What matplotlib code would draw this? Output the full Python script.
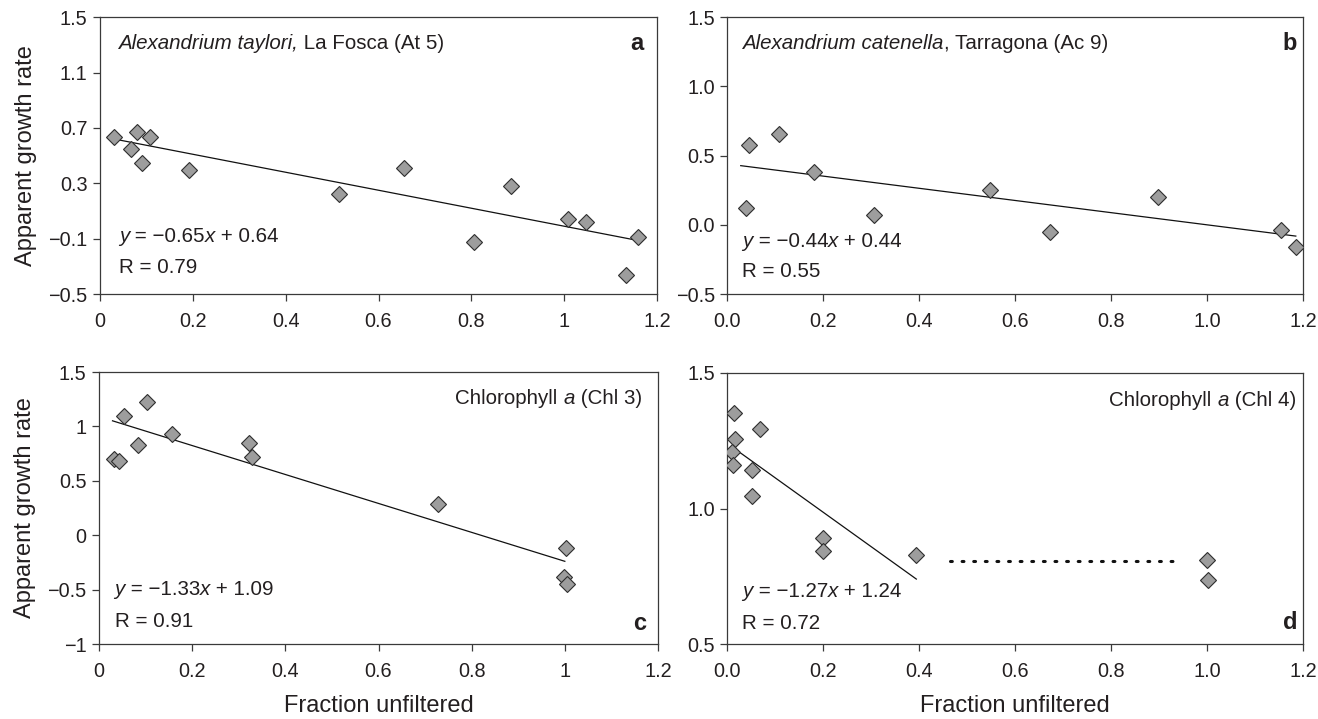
import matplotlib
matplotlib.use("Agg")
import matplotlib.pyplot as plt
import numpy as np
from matplotlib.offsetbox import TextArea, HPacker, AnnotationBbox

plt.rcParams['font.family'] = ['Liberation Sans', 'DejaVu Sans']
plt.rcParams['axes.unicode_minus'] = True

# ---------------- data ----------------
a_x = [0.031, 0.066, 0.079, 0.090, 0.107, 0.192, 0.514, 0.656, 0.806, 0.886, 1.008, 1.046, 1.134, 1.159]
a_y = [0.638, 0.547, 0.674, 0.446, 0.634, 0.393, 0.224, 0.410, -0.125, 0.282, 0.044, 0.020, -0.363, -0.088]
a_fit = (-0.65, 0.64)
a_fit_x = [0.031, 1.159]

b_x = [0.039, 0.046, 0.108, 0.181, 0.305, 0.547, 0.672, 0.897, 1.155, 1.185]
b_y = [0.12, 0.58, 0.66, 0.38, 0.07, 0.25, -0.05, 0.20, -0.04, -0.16]
b_fit = (-0.44, 0.44)
b_fit_x = [0.028, 1.185]

c_x = [0.033, 0.042, 0.053, 0.083, 0.103, 0.156, 0.323, 0.329, 0.728, 1.003, 0.998, 1.005]
c_y = [0.70, 0.68, 1.10, 0.83, 1.22, 0.93, 0.85, 0.72, 0.29, -0.12, -0.38, -0.45]
c_fit = (-1.33, 1.09)
c_fit_x = [0.029, 1.0]

d_x = [0.013, 0.016, 0.068, 0.009, 0.011, 0.051, 0.051, 0.200, 0.200, 0.394, 1.000, 1.002]
d_y = [1.351, 1.255, 1.293, 1.207, 1.160, 1.141, 1.046, 0.892, 0.842, 0.829, 0.811, 0.736]
d_fit = (-1.27, 1.24)
d_fit_x = [0.02, 0.394]
d_dot_x = [0.465, 0.94]
d_dot_y = [0.807, 0.807]

a_yticks = [-0.5, -0.1, 0.3, 0.7, 1.1, 1.5]
a_yticklabels = ['\u22120.5', '\u22120.1', '0.3', '0.7', '1.1', '1.5']
b_yticks = [-0.5, 0.0, 0.5, 1.0, 1.5]
b_yticklabels = ['\u22120.5', '0.0', '0.5', '1.0', '1.5']
c_yticks = [-1, -0.5, 0, 0.5, 1, 1.5]
c_yticklabels = ['\u22121', '\u22120.5', '0', '0.5', '1', '1.5']
d_yticks = [0.5, 1.0, 1.5]
d_yticklabels = ['0.5', '1.0', '1.5']
xticks = [0, 0.2, 0.4, 0.6, 0.8, 1.0, 1.2]
xticklabels_short = ['0', '0.2', '0.4', '0.6', '0.8', '1', '1.2']
xticklabels_long = ['0.0', '0.2', '0.4', '0.6', '0.8', '1.0', '1.2']

TXT = '#231f20'
SPINE = '#3a3a3a'
FS_TICK = 14.3
FS_ANN = 14.8
FS_LAB = 17
FS_LET = 17

fig = plt.figure(figsize=(13.18, 7.19), dpi=100)
W, H = 1318, 719

def make_ax(l, r, t, b):
    return fig.add_axes([l / W, 1 - b / H, (r - l) / W, (b - t) / H])

ax_a = make_ax(100, 657, 17.3, 294)
ax_b = make_ax(727.3, 1303, 17.3, 294)
ax_c = make_ax(99, 658, 372, 644)
ax_d = make_ax(727.3, 1303, 373, 644)

def style(ax, yticks, ylabels, xlabels, ylim):
    ax.set_xlim(0, 1.2)
    ax.set_ylim(*ylim)
    ax.set_xticks(xticks)
    ax.set_xticklabels(xlabels)
    ax.set_yticks(yticks)
    ax.set_yticklabels(ylabels)
    for s in ax.spines.values():
        s.set_color(SPINE)
        s.set_linewidth(0.9)
    ax.tick_params(axis='both', which='both', direction='out', length=5, width=0.9,
                   color=SPINE, labelsize=FS_TICK, labelcolor=TXT, pad=4,
                   top=False, right=False)
    ax.tick_params(axis='x', pad=8)

def scatter_fit(ax, x, y, fit, fit_x):
    fx = np.array(fit_x)
    ax.plot(fx, fit[0] * fx + fit[1], color='#111111', lw=0.9, zorder=2)
    ax.plot(x, y, linestyle='none', marker='D', ms=7.8, mfc='#9d9d9d',
            mec='#2e2e2e', mew=0.8, zorder=3)

def mixed(ax, x, y, parts, ha='left'):
    boxes = [TextArea(t, textprops=dict(fontsize=FS_ANN, color=TXT, style=st)) for t, st in parts]
    pack = HPacker(children=boxes, align='baseline', pad=0, sep=0)
    box_alignment = (0, 0.5) if ha == 'left' else (1, 0.5)
    ab = AnnotationBbox(pack, (x, y), xycoords='axes fraction', frameon=False,
                        box_alignment=box_alignment, pad=0)
    ax.add_artist(ab)

# panel a
scatter_fit(ax_a, a_x, a_y, a_fit, a_fit_x)
style(ax_a, a_yticks, a_yticklabels, xticklabels_short, (-0.5, 1.5))
mixed(ax_a, 0.032, 0.907, [('Alexandrium taylori,', 'italic'), (' La Fosca (At 5)', 'normal')])
mixed(ax_a, 0.034, 0.207, [('y', 'italic'), (' = \u22120.65', 'normal'), ('x', 'italic'), (' + 0.64', 'normal')])
ax_a.text(0.034, 0.095, 'R = 0.79', transform=ax_a.transAxes, fontsize=FS_ANN, color=TXT, va='center')
ax_a.text(0.975, 0.907, 'a', transform=ax_a.transAxes, fontsize=FS_LET, color=TXT,
          fontweight='bold', va='center', ha='right')
ax_a.set_ylabel('Apparent growth rate', fontsize=FS_LAB, color=TXT, labelpad=8)

# panel b
scatter_fit(ax_b, b_x, b_y, b_fit, b_fit_x)
style(ax_b, b_yticks, b_yticklabels, xticklabels_long, (-0.5, 1.5))
mixed(ax_b, 0.026, 0.907, [('Alexandrium catenella', 'italic'), (', Tarragona (Ac 9)', 'normal')])
mixed(ax_b, 0.026, 0.189, [('y', 'italic'), (' = \u22120.44', 'normal'), ('x', 'italic'), (' + 0.44', 'normal')])
ax_b.text(0.026, 0.081, 'R = 0.55', transform=ax_b.transAxes, fontsize=FS_ANN, color=TXT, va='center')
ax_b.text(0.99, 0.907, 'b', transform=ax_b.transAxes, fontsize=FS_LET, color=TXT,
          fontweight='bold', va='center', ha='right')

# panel c
scatter_fit(ax_c, c_x, c_y, c_fit, c_fit_x)
style(ax_c, c_yticks, c_yticklabels, xticklabels_short, (-1, 1.5))
mixed(ax_c, 0.971, 0.904, [('Chlorophyll ', 'normal'), ('a', 'italic'), (' (Chl 3)', 'normal')], ha='right')
mixed(ax_c, 0.028, 0.20, [('y', 'italic'), (' = \u22121.33', 'normal'), ('x', 'italic'), (' + 1.09', 'normal')])
ax_c.text(0.028, 0.082, 'R = 0.91', transform=ax_c.transAxes, fontsize=FS_ANN, color=TXT, va='center')
ax_c.text(0.979, 0.074, 'c', transform=ax_c.transAxes, fontsize=FS_LET, color=TXT,
          fontweight='bold', va='center', ha='right')
ax_c.set_ylabel('Apparent growth rate', fontsize=FS_LAB, color=TXT, labelpad=8)
ax_c.set_xlabel('Fraction unfiltered', fontsize=FS_LAB, color=TXT, labelpad=10)

# panel d
scatter_fit(ax_d, d_x, d_y, d_fit, d_fit_x)
ax_d.plot(d_dot_x, d_dot_y, color='#111111', lw=2.2, linestyle=(0, (0.6, 3.2)),
          dash_capstyle='round', zorder=2)
style(ax_d, d_yticks, d_yticklabels, xticklabels_long, (0.5, 1.5))
mixed(ax_d, 0.988, 0.897, [('Chlorophyll ', 'normal'), ('a', 'italic'), (' (Chl 4)', 'normal')], ha='right')
mixed(ax_d, 0.026, 0.192, [('y', 'italic'), (' = \u22121.27', 'normal'), ('x', 'italic'), (' + 1.24', 'normal')])
ax_d.text(0.026, 0.077, 'R = 0.72', transform=ax_d.transAxes, fontsize=FS_ANN, color=TXT, va='center')
ax_d.text(0.99, 0.08, 'd', transform=ax_d.transAxes, fontsize=FS_LET, color=TXT,
          fontweight='bold', va='center', ha='right')
ax_d.set_xlabel('Fraction unfiltered', fontsize=FS_LAB, color=TXT, labelpad=10)

fig.savefig('out.png', dpi=100)
